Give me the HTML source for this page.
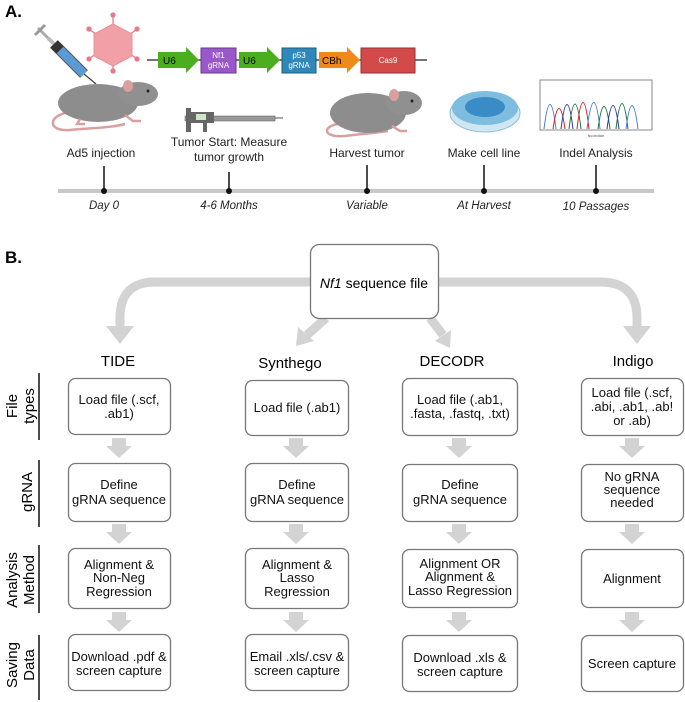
<!DOCTYPE html>
<html><head><meta charset="utf-8"><style>
html,body{margin:0;padding:0;background:#fff;}
svg{display:block;font-family:"Liberation Sans",Arial,sans-serif;}
</style></head><body>
<svg width="685" height="702" viewBox="0 0 685 702" xmlns="http://www.w3.org/2000/svg">
<text x="5" y="17" font-size="17" font-weight="bold">A.</text>
<!-- syringe (plunger top-left, needle bottom-right) -->
<g stroke-linecap="butt">
<line x1="38" y1="28" x2="48" y2="38" stroke="#aaa" stroke-width="3"/>
<line x1="35" y1="35" x2="45" y2="25" stroke="#999" stroke-width="3"/>
<line x1="48" y1="38" x2="54" y2="44" stroke="#bbb" stroke-width="4"/>
<line x1="54" y1="44" x2="84" y2="74" stroke="#555" stroke-width="11"/>
<line x1="54" y1="44" x2="84" y2="74" stroke="#5b9bd5" stroke-width="9"/>
<line x1="54" y1="44" x2="60" y2="50" stroke="#333" stroke-width="10"/>
<line x1="84" y1="74" x2="96" y2="84" stroke="#444" stroke-width="1.3"/>
</g>
<!-- virus -->
<g stroke="#e8798a" stroke-width="1.3" fill="#e8798a">
<line x1="113" y1="16" x2="113" y2="25"/><line x1="113" y1="66" x2="113" y2="72"/>
<line x1="90" y1="30" x2="96" y2="34"/><line x1="136" y1="30" x2="130" y2="34"/>
<line x1="90" y1="58" x2="96" y2="54"/><line x1="136" y1="58" x2="130" y2="54"/>
<circle cx="113" cy="15" r="2"/><circle cx="113" cy="71" r="2"/><circle cx="89" cy="29" r="2"/><circle cx="137" cy="29" r="2"/><circle cx="89" cy="59" r="2"/><circle cx="137" cy="59" r="2"/>
</g>
<polygon points="113,24 132,34 132,56 113,66 94,56 94,34" fill="#f2a0a8" stroke="#e8909a"/>
<!-- construct -->
<line x1="147" y1="60" x2="427" y2="60" stroke="#222" stroke-width="1.2"/>
<polygon points="158,52 186,52 186,47 199,60 186,73 186,68 158,68" fill="#4bae1e"/>
<text x="163" y="64" font-size="10">U6</text>
<rect x="201" y="48" width="35" height="25" fill="#9a57c9" stroke="#6a3a8a"/>
<text x="218.5" y="58" font-size="8" fill="#fff" text-anchor="middle">Nf1</text>
<text x="218.5" y="68" font-size="8" fill="#fff" text-anchor="middle">gRNA</text>
<polygon points="239,52 267,52 267,47 280,60 267,73 267,68 239,68" fill="#4bae1e"/>
<text x="243" y="64" font-size="10">U6</text>
<rect x="282" y="48" width="34" height="25" fill="#2f88b9" stroke="#1d5c80"/>
<text x="299" y="58" font-size="8" fill="#fff" text-anchor="middle">p53</text>
<text x="299" y="68" font-size="8" fill="#fff" text-anchor="middle">gRNA</text>
<polygon points="319,52 347,52 347,47 360,60 347,73 347,68 319,68" fill="#ef8a1a"/>
<text x="322" y="64" font-size="10">CBh</text>
<rect x="361" y="48" width="54" height="25" fill="#d24a4a" stroke="#9a3030"/>
<text x="388" y="63" font-size="8" fill="#fff" text-anchor="middle">Cas9</text>
<!-- mouse 1 -->
<g>
<path d="M75,112 C48,112 45,132 70,130 C90,128 110,128 125,124" fill="none" stroke="#d9a0a0" stroke-width="2.5"/>
<ellipse cx="98" cy="103" rx="40" ry="19" fill="#8d8d8d"/>
<ellipse cx="138" cy="94" rx="20" ry="12" fill="#909090"/>
<ellipse cx="128" cy="86" rx="5" ry="6" fill="#d9a0a0"/>
<circle cx="148" cy="91" r="1.5" fill="#222"/>
<path d="M80,119 l-3,5 h8 M125,115 l8,6 h8" stroke="#d9a0a0" stroke-width="2.5" fill="none"/>
</g>
<!-- caliper -->
<rect x="185" y="116" width="90" height="5" fill="#999" stroke="#555" stroke-width=".5"/>
<line x1="275" y1="118" x2="283" y2="118" stroke="#555"/>
<rect x="190" y="112" width="24" height="11" fill="#666"/>
<rect x="196" y="114" width="10" height="6" fill="#cfe6c6"/>
<rect x="186" y="108" width="5" height="24" fill="#666"/>
<rect x="203" y="120" width="4" height="12" fill="#666"/>
<!-- mouse 2 -->
<g>
<path d="M345,123 C322,124 320,138 345,136 C360,134 375,133 388,131" fill="none" stroke="#d9a0a0" stroke-width="2.5"/>
<ellipse cx="368" cy="113" rx="38" ry="20" fill="#8d8d8d"/>
<ellipse cx="404" cy="103" rx="18" ry="12" fill="#909090"/>
<ellipse cx="394" cy="95" rx="5" ry="6" fill="#d9a0a0"/>
<circle cx="412" cy="101" r="1.5" fill="#222"/>
<path d="M392,126 l8,5 h7" stroke="#d9a0a0" stroke-width="2.5" fill="none"/>
</g>
<!-- dish -->
<ellipse cx="485" cy="113" rx="35" ry="19" fill="#cfe7f3" stroke="#8cbcd6"/>
<ellipse cx="485" cy="108" rx="33" ry="17" fill="#7fbde0"/>
<ellipse cx="485" cy="107" rx="20" ry="10" fill="#3a8cc6"/>
<!-- chromatogram -->
<rect x="540" y="80" width="112" height="50" fill="#fff" stroke="#888"/>
<g fill="none" stroke-width="1">
<path d="M544,129 Q550,80 556,129" stroke="#4a7fd0"/>
<path d="M553,129 Q559,88 565,129" stroke="#d02020"/>
<path d="M561,129 Q567,80 573,129" stroke="#2a3aa0"/>
<path d="M569,129 Q575,79 581,129" stroke="#207040"/>
<path d="M577,129 Q583,76 589,129" stroke="#d02020"/>
<path d="M587,129 Q594,76 600,129" stroke="#4a7fd0"/>
<path d="M598,129 Q604,84 610,129" stroke="#207040"/>
<path d="M607,129 Q613,82 619,129" stroke="#2a3aa0"/>
<path d="M616,129 Q622,78 628,129" stroke="#207040"/>
<path d="M626,129 Q632,82 638,129" stroke="#4a7fd0"/>
</g>
<text x="596" y="137" font-size="3.5" text-anchor="middle" fill="#555">Nucleotide</text>
<!-- labels A -->
<g font-size="12" text-anchor="middle" fill="#222">
<text x="101" y="157">Ad5 injection</text>
<text x="229" y="146">Tumor Start: Measure</text>
<text x="229" y="161">tumor growth</text>
<text x="367" y="157">Harvest tumor</text>
<text x="484" y="157">Make cell line</text>
<text x="596" y="157">Indel Analysis</text>
</g>
<rect x="58" y="189" width="596" height="4" fill="#c8c8c8"/>
<g stroke="#111" stroke-width="1.5">
<line x1="104" y1="166" x2="104" y2="191"/><line x1="229" y1="172" x2="229" y2="191"/><line x1="367" y1="165" x2="367" y2="191"/><line x1="484" y1="165" x2="484" y2="191"/><line x1="596" y1="165" x2="596" y2="191"/>
</g>
<g fill="#111"><circle cx="104" cy="191" r="3"/><circle cx="229" cy="191" r="3"/><circle cx="367" cy="191" r="3"/><circle cx="484" cy="191" r="3"/><circle cx="596" cy="191" r="3"/></g>
<g font-size="11.5" font-style="italic" text-anchor="middle" fill="#222">
<text x="104" y="209">Day 0</text><text x="229" y="209">4-6 Months</text><text x="367" y="209">Variable</text><text x="484" y="209">At Harvest</text><text x="596" y="210">10 Passages</text>
</g>

<!-- Panel B -->
<text x="5" y="263" font-size="17" font-weight="bold">B.</text>
<g fill="none" stroke="#d3d3d3" stroke-width="9">
<path d="M312,282 H155 Q120,282 120,318 V328"/>
<path d="M438,282 H600 Q637,282 637,318 V328"/>
<path d="M326,318 L307,335"/>
<path d="M430,318 L443,335"/>
</g>
<g fill="#d3d3d3">
<polygon points="106,326 134,326 120,344"/>
<polygon points="623,326 651,326 637,344"/>
<polygon points="298,327 314,341 296,346"/>
<polygon points="435,341 451,330 450,348"/>
</g>
<rect x="310.5" y="244.5" width="128" height="74" rx="9" fill="#fff" stroke="#777" stroke-width="1.3"/>
<text x="374" y="288" font-size="14" text-anchor="middle"><tspan font-style="italic">Nf1</tspan> sequence file</text>
<g font-size="15" text-anchor="middle">
<text x="118" y="366">TIDE</text><text x="290" y="368">Synthego</text><text x="452" y="366">DECODR</text><text x="633" y="366">Indigo</text>
</g>
<g stroke="#111" stroke-width="1.5">
<line x1="39" y1="373" x2="39" y2="440"/><line x1="39" y1="460" x2="39" y2="527"/><line x1="39" y1="545" x2="39" y2="613"/><line x1="39" y1="635" x2="39" y2="700"/>
</g>
<g font-size="15" text-anchor="middle">
<text transform="translate(0,406) rotate(-90)"><tspan x="0" y="17">File</tspan><tspan x="0" y="34">types</tspan></text>
<text transform="translate(0,492) rotate(-90)" x="0" y="32">gRNA</text>
<text transform="translate(0,580) rotate(-90)"><tspan x="0" y="17">Analysis</tspan><tspan x="0" y="34">Method</tspan></text>
<text transform="translate(0,665) rotate(-90)"><tspan x="0" y="17">Saving</tspan><tspan x="0" y="34">Data</tspan></text>
</g>
<defs><g id="dn" fill="#d3d3d3"><rect x="-7" y="0" width="14" height="9"/><polygon points="-13,8 13,8 0,20"/></g></defs>
<use href="#dn" x="119" y="438"/><use href="#dn" x="296" y="438"/><use href="#dn" x="459" y="438"/><use href="#dn" x="632" y="438"/>
<use href="#dn" x="119" y="524"/><use href="#dn" x="296" y="524"/><use href="#dn" x="459" y="524"/><use href="#dn" x="632" y="524"/>
<use href="#dn" x="119" y="612"/><use href="#dn" x="296" y="612"/><use href="#dn" x="459" y="612"/><use href="#dn" x="632" y="612"/>
<g fill="#fff" stroke="#777" stroke-width="1.3">
<rect x="68.5" y="378.5" width="102" height="56" rx="7"/><rect x="245.5" y="380.5" width="103" height="55" rx="7"/><rect x="402.5" y="378.5" width="115" height="57" rx="7"/><rect x="581.5" y="378.5" width="102" height="57" rx="7"/>
<rect x="68.5" y="463.5" width="102" height="58" rx="7"/><rect x="245.5" y="463.5" width="103" height="58" rx="7"/><rect x="402.5" y="464.5" width="115" height="57" rx="7"/><rect x="581.5" y="464.5" width="102" height="57" rx="7"/>
<rect x="68.5" y="548.5" width="102" height="60" rx="7"/><rect x="245.5" y="548.5" width="103" height="60" rx="7"/><rect x="402.5" y="549.5" width="115" height="58" rx="7"/><rect x="581.5" y="549.5" width="102" height="58" rx="7"/>
<rect x="68.5" y="634.5" width="102" height="56" rx="7"/><rect x="245.5" y="634.5" width="103" height="56" rx="7"/><rect x="402.5" y="635.5" width="115" height="56" rx="7"/><rect x="581.5" y="635.5" width="102" height="56" rx="7"/>
</g>
<g font-size="13" text-anchor="middle" fill="#111">
<text x="119" y="404">Load file (.scf,</text><text x="119" y="418">.ab1)</text>
<text x="297" y="412">Load file (.ab1)</text>
<text x="460" y="404">Load file (.ab1,</text><text x="460" y="418">.fasta, .fastq, .txt)</text>
<text x="632" y="397">Load file (.scf,</text><text x="632" y="411">.abi, .ab1, .ab!</text><text x="632" y="425">or .ab)</text>
<text x="119" y="489">Define</text><text x="119" y="504">gRNA sequence</text>
<text x="297" y="489">Define</text><text x="297" y="504">gRNA sequence</text>
<text x="460" y="489">Define</text><text x="460" y="504">gRNA sequence</text>
<text x="632" y="481">No gRNA</text><text x="632" y="494">sequence</text><text x="632" y="507">needed</text>
<text x="119" y="569">Alignment &amp;</text><text x="119" y="582">Non-Neg</text><text x="119" y="596">Regression</text>
<text x="297" y="569">Alignment &amp;</text><text x="297" y="582">Lasso</text><text x="297" y="596">Regression</text>
<text x="460" y="568">Alignment OR</text><text x="460" y="581">Alignment &amp;</text><text x="460" y="595">Lasso Regression</text>
<text x="632" y="583">Alignment</text>
<text x="119" y="661">Download .pdf &amp;</text><text x="119" y="675">screen capture</text>
<text x="297" y="661">Email .xls/.csv &amp;</text><text x="297" y="675">screen capture</text>
<text x="460" y="662">Download .xls &amp;</text><text x="460" y="676">screen capture</text>
<text x="632" y="668">Screen capture</text>
</g>
</svg>
</body></html>
